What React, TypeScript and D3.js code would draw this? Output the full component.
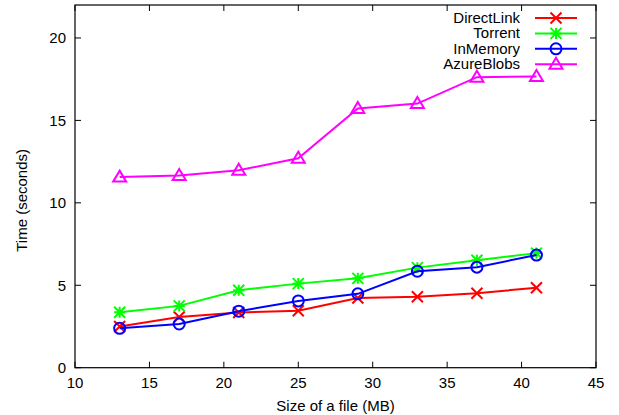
import React from 'react';
import * as d3 from 'd3';

const fileSizes = [13, 17, 21, 25, 29, 33, 37, 41];
const directLink = [2.5, 3.08, 3.35, 3.45, 4.23, 4.3, 4.52, 4.85];
const torrent = [3.36, 3.75, 4.7, 5.1, 5.42, 6.07, 6.52, 6.95];
const inMemory = [2.39, 2.65, 3.43, 4.05, 4.48, 5.85, 6.1, 6.83];
const azureBlobs = [11.56, 11.66, 11.98, 12.7, 15.72, 16.02, 17.62, 17.66];
const xTicks = [10, 15, 20, 25, 30, 35, 40, 45];
const yTicks = [0, 5, 10, 15, 20];

const series = [
  { name: 'DirectLink', values: directLink, color: '#ff0000', marker: 'x' },
  { name: 'Torrent', values: torrent, color: '#00ff00', marker: 'star' },
  { name: 'InMemory', values: inMemory, color: '#0000ff', marker: 'circle' },
  { name: 'AzureBlobs', values: azureBlobs, color: '#ff00ff', marker: 'triangle' },
];

const W = 619;
const H = 415;
const left = 75;
const right = 596;
const top = 5;
const bottom = 367.7;
const font = 'Liberation Sans, Arial, Helvetica, sans-serif';

const Marker = ({ type, x, y, color }: { type: string; x: number; y: number; color: string }) => {
  const s = 5.5;
  if (type === 'x') {
    return <path d={`M${x - s},${y - s}L${x + s},${y + s}M${x - s},${y + s}L${x + s},${y - s}`} stroke={color} strokeWidth={2} fill="none" />;
  }
  if (type === 'star') {
    return (
      <path
        d={`M${x - s},${y - s}L${x + s},${y + s}M${x - s},${y + s}L${x + s},${y - s}M${x - s},${y}L${x + s},${y}M${x},${y - s}L${x},${y + s}`}
        stroke={color} strokeWidth={2} fill="none" />
    );
  }
  if (type === 'circle') {
    return <circle cx={x} cy={y} r={5.5} stroke={color} strokeWidth={2} fill="none" />;
  }
  return <path d={`M${x},${y - 6.5}L${x + 6.5},${y + 4.5}L${x - 6.5},${y + 4.5}Z`} stroke={color} strokeWidth={2} fill="none" />;
};

export default function App() {
  const x = d3.scaleLinear().domain([10, 45]).range([left, right]);
  const y = d3.scaleLinear().domain([0, 22]).range([bottom, top]);
  const tick = 6;

  return (
    <svg width={W} height={H} style={{ position: 'absolute', left: 0, top: 0, background: '#fff' }}>
      <rect x={0} y={0} width={W} height={H} fill="#fff" />
      <g fontFamily={font} fontSize={15} fill="#000">
        {yTicks.map((t) => (
          <g key={'y' + t}>
            <line x1={left} x2={left + tick} y1={y(t)} y2={y(t)} stroke="#000" />
            <line x1={right} x2={right - tick} y1={y(t)} y2={y(t)} stroke="#000" />
            <text x={left - 9} y={y(t) + 5.5} textAnchor="end">{t}</text>
          </g>
        ))}
        {xTicks.map((t) => (
          <g key={'x' + t}>
            <line x1={x(t)} x2={x(t)} y1={bottom} y2={bottom - tick} stroke="#000" />
            <line x1={x(t)} x2={x(t)} y1={top} y2={top + tick} stroke="#000" />
            <text x={x(t)} y={bottom + 20} textAnchor="middle">{t}</text>
          </g>
        ))}
        <text x={(left + right) / 2} y={411} textAnchor="middle">Size of a file (MB)</text>
        <text transform={`translate(27,${(top + bottom) / 2 + 14}) rotate(-90)`} textAnchor="middle">Time (seconds)</text>
      </g>
      <rect x={left} y={top} width={right - left} height={bottom - top} fill="none" stroke="#000" strokeWidth={1.2} />
      {series.map((s) => {
        const line = d3.line<number>().x((_, i) => x(fileSizes[i])).y((d) => y(d));
        return (
          <g key={s.name}>
            <path d={line(s.values) || ''} stroke={s.color} strokeWidth={2} fill="none" />
            {s.values.map((v, i) => (
              <Marker key={i} type={s.marker} x={x(fileSizes[i])} y={y(v)} color={s.color} />
            ))}
          </g>
        );
      })}
      <g fontFamily={font} fontSize={15}>
        {series.map((s, i) => {
          const ly = 18 + i * 15.4;
          return (
            <g key={'l' + s.name}>
              <text x={520} y={ly + 5} textAnchor="end" fill="#000">{s.name}</text>
              <line x1={535} x2={577} y1={ly} y2={ly} stroke={s.color} strokeWidth={2} />
              <Marker type={s.marker} x={556} y={ly} color={s.color} />
            </g>
          );
        })}
      </g>
    </svg>
  );
}
